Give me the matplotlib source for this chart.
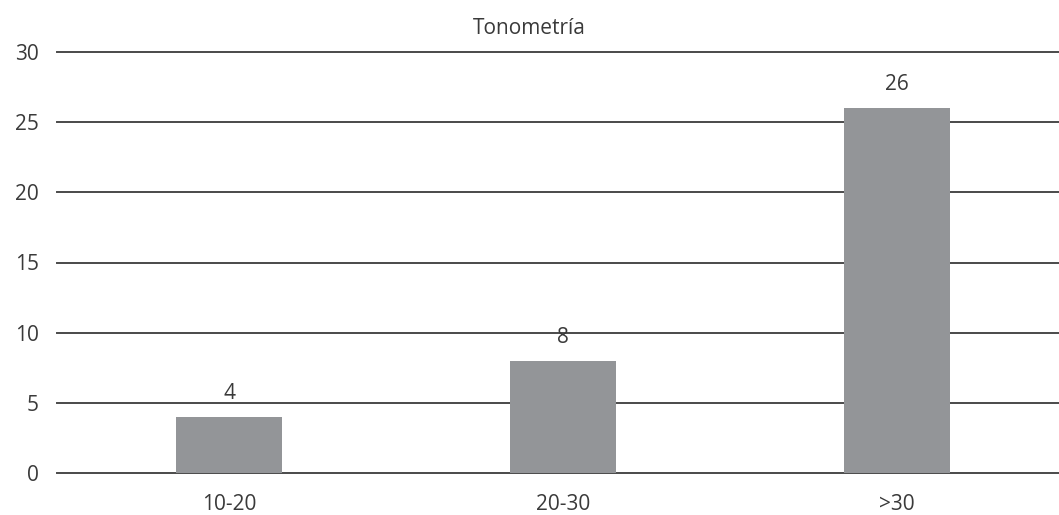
import matplotlib
matplotlib.use("Agg")
import matplotlib.pyplot as plt

categories = ["10-20", "20-30", ">30"]
values = [4, 8, 26]
yticks = [0, 5, 10, 15, 20, 25, 30]
title = "Tonometría"

plt.rcParams['font.family'] = ['Open Sans', 'DejaVu Sans']
text_color = "#3a3a3a"
fs = 15

fig = plt.figure(figsize=(10.59, 5.15), dpi=100)
ax = fig.add_axes([57/1059, 42/515, 1 - 57/1059, (473-52)/515])

x = list(range(len(categories)))
bars = ax.bar(x, values, width=0.317, color="#939598", zorder=3)

for xi, v in zip(x, values):
    ax.annotate(str(v), (xi, v), xytext=(0, 13), textcoords="offset pixels",
                ha="center", va="bottom", fontsize=fs, color=text_color)

ax.set_ylim(0, 30)
ax.set_xlim(-0.515, 2.485)
ax.set_yticks(yticks)
ax.set_xticks(x)
ax.set_xticklabels(categories)
ax.yaxis.grid(True, color="#4a4a4a", linewidth=1.4, zorder=0)
for gl in ax.get_ygridlines():
    gl.set_clip_on(False)
ax.set_axisbelow(True)
for s in ax.spines.values():
    s.set_visible(False)
ax.tick_params(axis="both", length=0, labelsize=fs, labelcolor=text_color)
ax.tick_params(axis="y", pad=13)
ax.tick_params(axis="x", pad=15)
fig.text(0.5, 1 - 28/515, title, ha="center", va="center", fontsize=fs, color=text_color)

fig.savefig("out.png", dpi=100)
